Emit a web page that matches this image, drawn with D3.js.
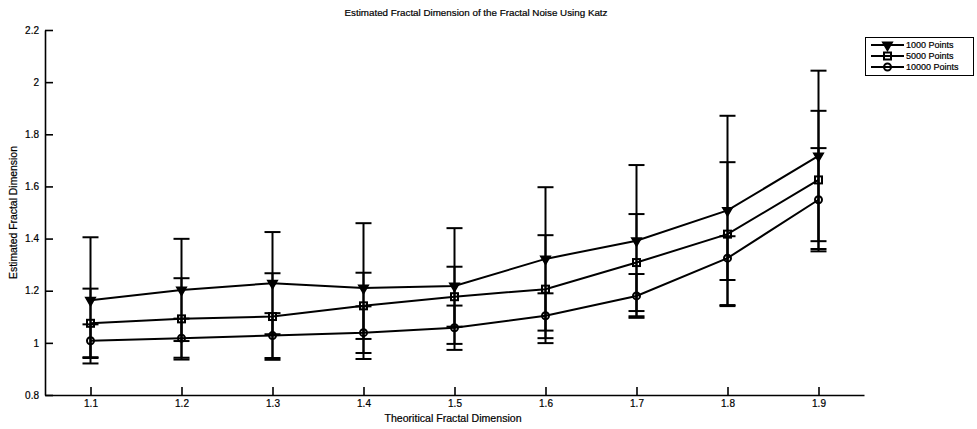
<!DOCTYPE html>
<html>
<head>
<meta charset="utf-8">
<script src="https://cdn.jsdelivr.net/npm/d3@7"></script>
<style>
  html, body { margin: 0; padding: 0; background: #fff; }
  svg { display: block; font-family: "Liberation Sans", Arial, sans-serif; }
  .axis path, .axis line { stroke: #000; stroke-width: 1.6; }
  .axis text { fill: #000; font-size: 10px; stroke: #000; stroke-width: 0.2; }
  .label { stroke: #000; stroke-width: 0.2; }
</style>
</head>
<body>
<svg id="chart" width="977" height="429"></svg>
<script>
// Theoretical fractal dimension (x) and the Katz estimates for each noise length
const theoretical = [1.1, 1.2, 1.3, 1.4, 1.5, 1.6, 1.7, 1.8, 1.9];

const mean1000  = [1.163, 1.203, 1.229, 1.210, 1.218, 1.322, 1.392, 1.508, 1.717];
const err1000   = [0.242, 0.196, 0.196, 0.249, 0.222, 0.275, 0.290, 0.363, 0.327];

const mean5000  = [1.075, 1.092, 1.101, 1.142, 1.177, 1.206, 1.308, 1.417, 1.625];
const err5000   = [0.133, 0.156, 0.166, 0.127, 0.115, 0.207, 0.186, 0.276, 0.265];

const mean10000 = [1.008, 1.018, 1.028, 1.039, 1.058, 1.104, 1.180, 1.325, 1.549];
const err10000  = [0.063, 0.075, 0.086, 0.101, 0.085, 0.086, 0.084, 0.084, 0.198];

const seriesNames = ["1000 Points", "5000 Points", "10000 Points"];
const xTicks = [1.1, 1.2, 1.3, 1.4, 1.5, 1.6, 1.7, 1.8, 1.9];
const yTicks = [0.8, 1.0, 1.2, 1.4, 1.6, 1.8, 2.0, 2.2];

const titleText = "Estimated Fractal Dimension of the Fractal Noise Using Katz";
const xLabel = "Theoritical Fractal Dimension";
const yLabel = "Estimated Fractal Dimension";

const series = [
  { name: seriesNames[0], mean: mean1000,  err: err1000,  marker: "tri" },
  { name: seriesNames[1], mean: mean5000,  err: err5000,  marker: "square" },
  { name: seriesNames[2], mean: mean10000, err: err10000, marker: "circle" }
];

const svg = d3.select("#chart");
const plot = { left: 45, right: 864, top: 30, bottom: 395 };

const x = d3.scaleLinear().domain([1.05, 1.95]).range([plot.left, plot.right]);
const y = d3.scaleLinear().domain([0.8, 2.2]).range([plot.bottom, plot.top]);

// Axes with inward ticks (left and bottom only)
svg.append("g")
  .attr("class", "axis")
  .attr("transform", `translate(0,${plot.bottom})`)
  .call(d3.axisBottom(x).tickValues(xTicks).tickFormat(d3.format(".1f"))
    .tickSizeInner(-8).tickSizeOuter(0).tickPadding(5));

svg.append("g")
  .attr("class", "axis")
  .attr("transform", `translate(${plot.left},0)`)
  .call(d3.axisLeft(y).tickValues(yTicks).tickFormat(d => d3.format(".1f")(d).replace(/\.0$/, ""))
    .tickSizeInner(-8).tickSizeOuter(0).tickPadding(6));

// Titles
svg.append("text")
  .attr("class", "label")
  .attr("x", 476).attr("y", 16)
  .attr("text-anchor", "middle")
  .attr("font-size", 9.8)
  .text(titleText);

svg.append("text")
  .attr("class", "label")
  .attr("x", 453).attr("y", 422)
  .attr("text-anchor", "middle")
  .attr("font-size", 10.6)
  .text(xLabel);

svg.append("text")
  .attr("class", "label")
  .attr("transform", `translate(17,${(plot.top + plot.bottom) / 2}) rotate(-90)`)
  .attr("text-anchor", "middle")
  .attr("font-size", 10.4)
  .text(yLabel);

// Marker drawing helper
function drawMarker(g, type, cx, cy) {
  if (type === "tri") {
    g.append("path")
      .attr("d", d3.symbol().type(d3.symbolTriangle).size(40)())
      .attr("transform", `translate(${cx},${cy}) rotate(180)`)
      .attr("fill", "#000").attr("stroke", "#000").attr("stroke-width", 1.5);
  } else if (type === "square") {
    g.append("rect")
      .attr("x", cx - 3.5).attr("y", cy - 3.5).attr("width", 7).attr("height", 7)
      .attr("fill", "none").attr("stroke", "#000").attr("stroke-width", 2);
  } else {
    g.append("circle")
      .attr("cx", cx).attr("cy", cy).attr("r", 3.5)
      .attr("fill", "none").attr("stroke", "#000").attr("stroke-width", 2);
  }
}

const capHalf = 8;
const line = d3.line().x(d => x(d[0])).y(d => y(d[1]));

series.forEach(s => {
  const g = svg.append("g");
  const pts = theoretical.map((t, i) => [t, s.mean[i], s.err[i]]);

  // Error bars
  pts.forEach(([t, m, e]) => {
    const cx = x(t);
    g.append("line")
      .attr("x1", cx).attr("x2", cx).attr("y1", y(m - e)).attr("y2", y(m + e))
      .attr("stroke", "#000").attr("stroke-width", 2);
    [m - e, m + e].forEach(v => {
      g.append("line")
        .attr("x1", cx - capHalf).attr("x2", cx + capHalf)
        .attr("y1", y(v)).attr("y2", y(v))
        .attr("stroke", "#000").attr("stroke-width", 2);
    });
  });

  // Mean line
  g.append("path")
    .attr("d", line(pts))
    .attr("fill", "none").attr("stroke", "#000").attr("stroke-width", 2);

  pts.forEach(([t, m]) => drawMarker(g, s.marker, x(t), y(m)));
});

// Legend
const legend = svg.append("g");
legend.append("rect")
  .attr("x", 865.5).attr("y", 37.5).attr("width", 108).attr("height", 38)
  .attr("fill", "#fff").attr("stroke", "#000").attr("stroke-width", 1);

series.forEach((s, i) => {
  const ly = 45 + i * 11;
  legend.append("line")
    .attr("x1", 871).attr("x2", 904).attr("y1", ly).attr("y2", ly)
    .attr("stroke", "#000").attr("stroke-width", 2);
  drawMarker(legend, s.marker, 887.5, ly);
  legend.append("text")
    .attr("class", "label")
    .attr("x", 906).attr("y", ly + 3.3)
    .attr("font-size", 9)
    .text(s.name);
});
</script>
</body>
</html>
